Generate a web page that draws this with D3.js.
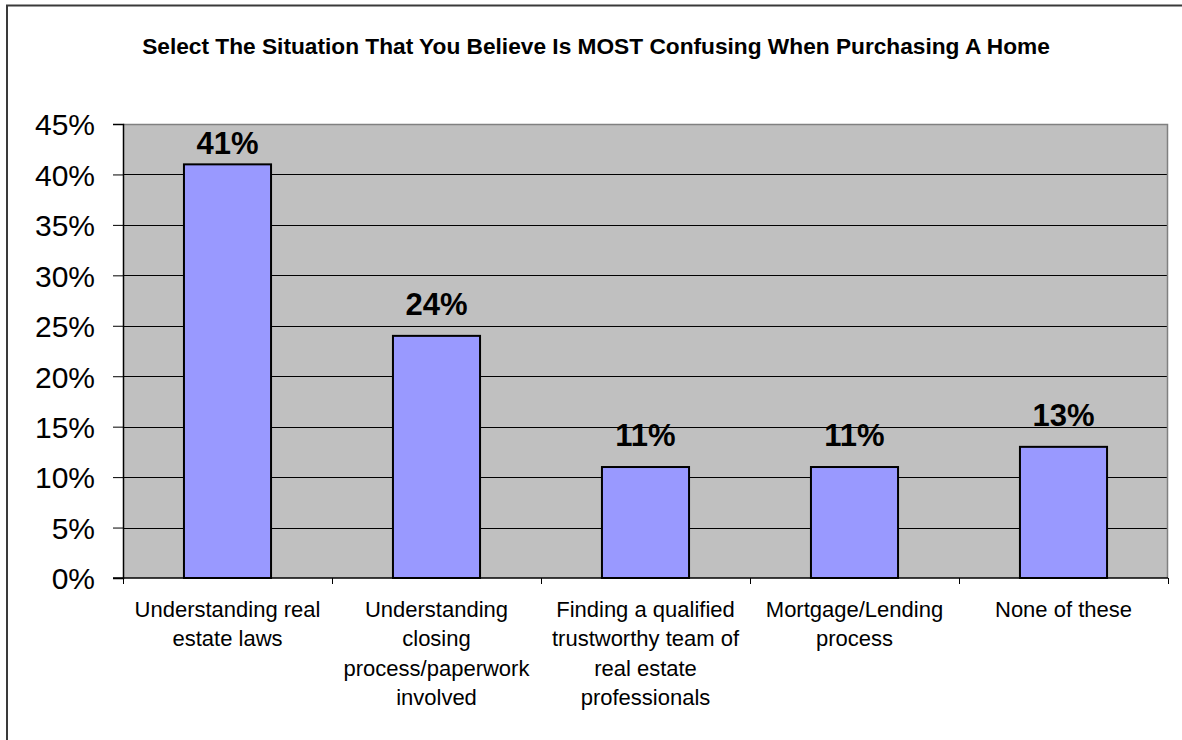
<!DOCTYPE html>
<html>
<head>
<meta charset="utf-8">
<script src="https://cdn.jsdelivr.net/npm/d3@7"></script>
<style>
  html, body { margin: 0; padding: 0; background: #ffffff; overflow: hidden; }
  svg { display: block; font-family: Arial, "Liberation Sans", sans-serif; }
</style>
</head>
<body>
<svg id="chart" width="1182" height="740"></svg>
<script>
// Survey answers and their shares (percent)
const categories = [
  "Understanding real estate laws",
  "Understanding closing process/paperwork involved",
  "Finding a qualified trustworthy team of real estate professionals",
  "Mortgage/Lending process",
  "None of these"
];
// Wrapped lines for each category label
const categoryLines = [
  ["Understanding real", "estate laws"],
  ["Understanding", "closing", "process/paperwork", "involved"],
  ["Finding a qualified", "trustworthy team of", "real estate", "professionals"],
  ["Mortgage/Lending", "process"],
  ["None of these"]
];
const values = [41, 24, 11, 11, 13];
const yTicks = [0, 5, 10, 15, 20, 25, 30, 35, 40, 45];
const titleText = "Select The Situation That You Believe Is MOST Confusing When Purchasing A Home";

const svg = d3.select("#chart");
const W = 1182, H = 740;
const plot = { left: 123, right: 1168, top: 124, bottom: 578 };

// Outer chart frame: left and top edges
svg.append("path")
  .attr("d", `M7,${H}V5.5H${W}`)
  .attr("fill", "none")
  .attr("stroke", "#3a3a3a").attr("stroke-width", 2);

// Title
svg.append("text")
  .attr("x", (142 + 1050) / 2).attr("y", 54)
  .attr("text-anchor", "middle")
  .attr("font-size", 22.7).attr("font-weight", "bold")
  .attr("fill", "#000")
  .text(titleText);

const x = d3.scaleBand().domain(categories).range([plot.left, plot.right]).padding(0);
const y = d3.scaleLinear().domain([0, 45]).range([plot.bottom, plot.top]);
const barW = x.bandwidth() / 2.4;

// Plot area background
svg.append("rect")
  .attr("x", plot.left).attr("y", plot.top)
  .attr("width", plot.right - plot.left).attr("height", plot.bottom - plot.top)
  .attr("fill", "#c0c0c0");

// Horizontal gridlines
svg.append("g").selectAll("line")
  .data(yTicks.filter(t => t > 0 && t < 45))
  .join("line")
  .attr("x1", plot.left).attr("x2", plot.right)
  .attr("y1", d => Math.round(y(d)) + 0.5).attr("y2", d => Math.round(y(d)) + 0.5)
  .attr("stroke", "#000").attr("stroke-width", 1);

// Plot area border (top and right)
svg.append("path")
  .attr("d", `M${plot.left},${plot.top + 0.5}H${plot.right - 0.5}V${plot.bottom}`)
  .attr("fill", "none").attr("stroke", "#808080").attr("stroke-width", 1.5);

// Bars
svg.append("g").selectAll("rect")
  .data(values)
  .join("rect")
  .attr("x", (d, i) => x(categories[i]) + (x.bandwidth() - barW) / 2)
  .attr("y", d => y(d))
  .attr("width", barW)
  .attr("height", d => y(0) - y(d))
  .attr("fill", "#9999ff")
  .attr("stroke", "#000").attr("stroke-width", 2);

// Value labels above bars, kept inside the plot area
svg.append("g").selectAll("text")
  .data(values)
  .join("text")
  .attr("x", (d, i) => x(categories[i]) + x.bandwidth() / 2)
  .attr("y", d => Math.max(y(d) - 21, plot.top + 30))
  .attr("text-anchor", "middle")
  .attr("font-size", 31).attr("font-weight", "bold")
  .attr("fill", "#000")
  .text(d => d + "%");

// Y axis
const yAxis = svg.append("g")
  .attr("transform", `translate(${plot.left},0)`)
  .call(d3.axisLeft(y).tickValues(yTicks).tickSize(10).tickPadding(18).tickFormat(d => d + "%"));
yAxis.select(".domain").attr("stroke", "#000").attr("stroke-width", 1.5);
yAxis.selectAll(".tick line").attr("stroke", "#000").attr("stroke-width", 1);
yAxis.selectAll(".tick text")
  .attr("font-size", 30).attr("font-family", "Arial, 'Liberation Sans', sans-serif")
  .attr("fill", "#000").attr("dy", "0.36em");

// X axis line and boundary ticks
svg.append("line")
  .attr("x1", plot.left - 10).attr("x2", plot.right)
  .attr("y1", plot.bottom).attr("y2", plot.bottom)
  .attr("stroke", "#000").attr("stroke-width", 1.5);
const bounds = categories.map(c => x(c)).concat([plot.right]);
svg.append("g").selectAll("line")
  .data(bounds)
  .join("line")
  .attr("x1", d => Math.round(d) + 0.5).attr("x2", d => Math.round(d) + 0.5)
  .attr("y1", plot.bottom).attr("y2", plot.bottom + 6)
  .attr("stroke", "#000").attr("stroke-width", 1);

// Category labels
const catG = svg.append("g");
categoryLines.forEach((lines, i) => {
  const cx = x(categories[i]) + x.bandwidth() / 2;
  const t = catG.append("text")
    .attr("x", cx)
    .attr("y", 617)
    .attr("text-anchor", "middle")
    .attr("font-size", 22)
    .attr("fill", "#000");
  lines.forEach((ln, j) => {
    t.append("tspan")
      .attr("x", cx)
      .attr("y", 617 + j * 29.3)
      .text(ln);
  });
});
</script>
</body>
</html>
